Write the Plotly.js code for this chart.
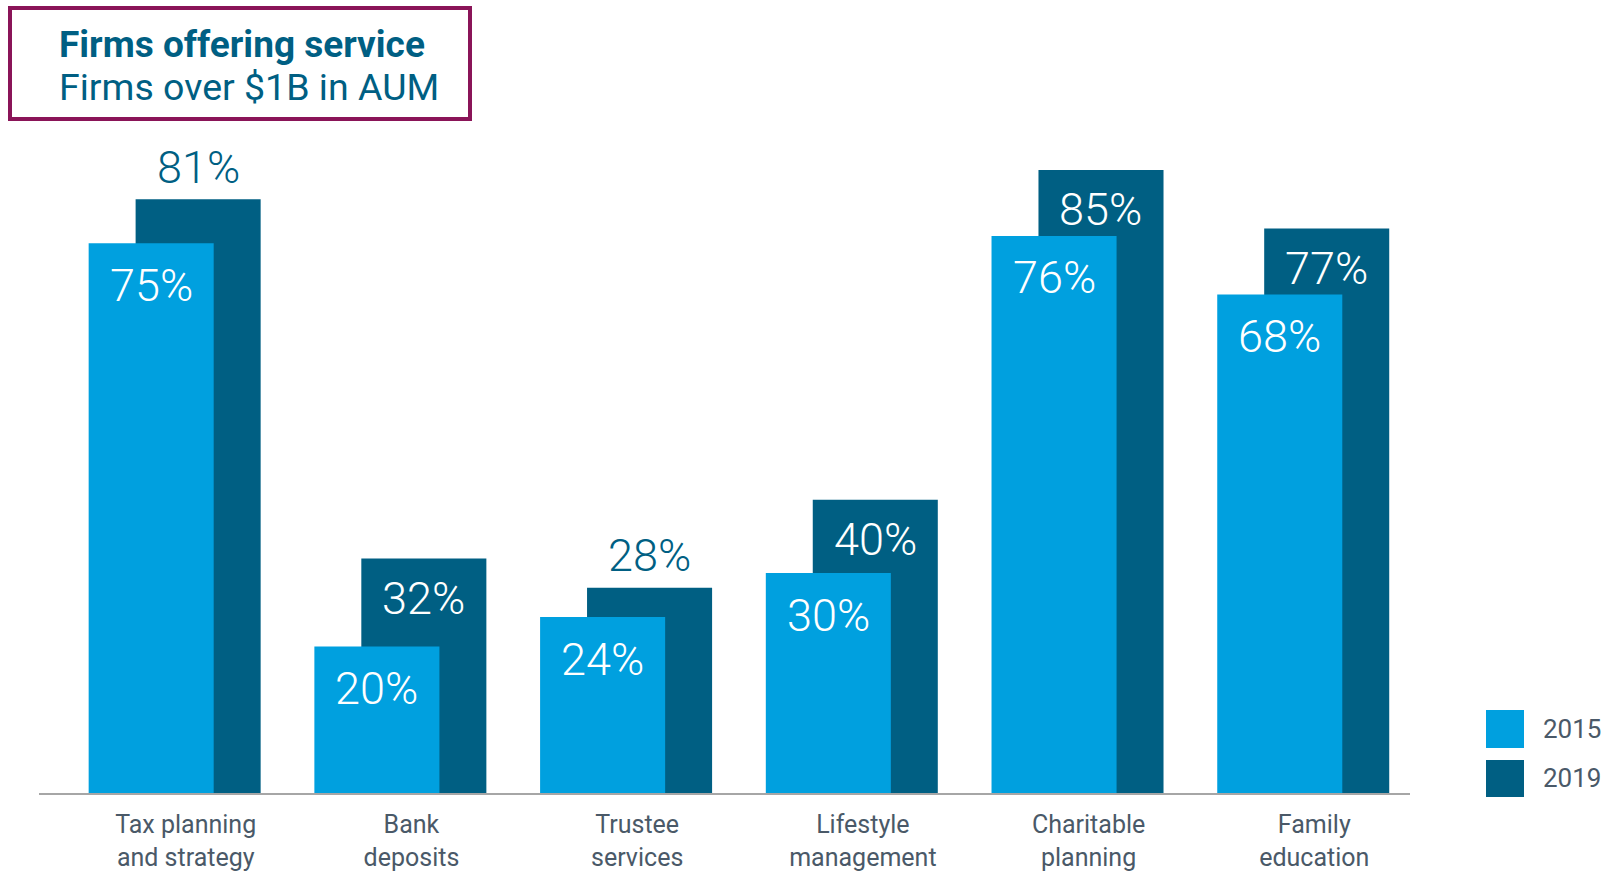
<!DOCTYPE html>
<html><head><meta charset="utf-8">
<script src="https://cdn.plot.ly/plotly-3.0.1.min.js"></script>
<style>html,body{margin:0;padding:0;background:#fff}#chart{width:1610px;height:874px}</style>
</head><body><div id="chart"></div>
<script>
const categories = ["Tax planning<br>and strategy","Bank<br>deposits","Trustee<br>services","Lifestyle<br>management","Charitable<br>planning","Family<br>education"];
const values2015 = [75,20,24,30,76,68];
const values2019 = [81,32,28,40,85,77];
const seriesNames = ["2015","2019"];

const W=1610,H=874, ML=39, MR=200, MT=60, MB=81;
const PW=W-ML-MR, PH=H-MT-MB;
const px2x = p => (p-ML)/PW;
const px2y = p => (H-MB-p)/PH;

const C15="#00a0df", C19="#005f83", TXT="#4a5968";
const BW=0.554, OFF15=-0.38, OFF19=-0.172;
const idx = categories.map((c,i)=>i);

const traces=[
 {type:'bar',name:seriesNames[1],x:idx,y:values2019,width:BW,offset:OFF19,marker:{color:C19},hoverinfo:'skip',showlegend:false},
 {type:'bar',name:seriesNames[0],x:idx,y:values2015,width:BW,offset:OFF15,marker:{color:C15},hoverinfo:'skip',showlegend:false}
];

const valFont = (c)=>({family:'Roboto',size:45,color:c,weight:300});
const ann=[];
idx.forEach(i=>{
  ann.push({x:i+OFF15+BW/2,y:values2015[i],xref:'x',yref:'y',text:values2015[i]+'%',showarrow:false,yanchor:'middle',yshift:-42,font:valFont('#ffffff')});
  const above = (values2019[i]-values2015[i])<8;
  ann.push({x:i+OFF19+BW/2,y:values2019[i],xref:'x',yref:'y',text:values2019[i]+'%',showarrow:false,yanchor:'middle',yshift:above?32:-40,font:valFont(above?C19:'#ffffff')});
});
// title
ann.push({xref:'paper',yref:'paper',x:px2x(57),y:px2y(44),xanchor:'left',yanchor:'middle',showarrow:false,text:'<b>Firms offering service</b>',font:{family:'Roboto',size:37,color:C19}});
ann.push({xref:'paper',yref:'paper',x:px2x(57),y:px2y(87),xanchor:'left',yanchor:'middle',showarrow:false,text:'Firms over $1B in AUM',font:{family:'Roboto',size:37.5,color:C19}});
// legend text
ann.push({xref:'paper',yref:'paper',x:px2x(1541),y:px2y(729),xanchor:'left',yanchor:'middle',showarrow:false,text:seriesNames[0],font:{family:'Roboto',size:26,color:TXT}});
ann.push({xref:'paper',yref:'paper',x:px2x(1541),y:px2y(778),xanchor:'left',yanchor:'middle',showarrow:false,text:seriesNames[1],font:{family:'Roboto',size:26,color:TXT}});

const shapes=[
 {type:'rect',xref:'paper',yref:'paper',x0:px2x(10),x1:px2x(470),y0:px2y(119),y1:px2y(8),line:{color:'#8a1458',width:4},fillcolor:'rgba(0,0,0,0)'},
 {type:'rect',xref:'paper',yref:'paper',x0:px2x(1486),x1:px2x(1524),y0:px2y(748),y1:px2y(710),line:{width:0},fillcolor:C15},
 {type:'rect',xref:'paper',yref:'paper',x0:px2x(1486),x1:px2x(1524),y0:px2y(797),y1:px2y(760),line:{width:0},fillcolor:C19}
];

const layout={
 width:W,height:H,margin:{l:ML,r:MR,t:MT,b:MB,pad:0},
 paper_bgcolor:'#fff',plot_bgcolor:'#fff',barmode:'overlay',showlegend:false,
 xaxis:{type:'linear',range:[-0.6,5.474],tickmode:'array',tickvals:idx.map(i=>i+0.05),ticktext:categories,
   showgrid:false,zeroline:false,showline:true,linecolor:'#a6a6a6',linewidth:2,
   ticks:'',tickfont:{family:'Roboto',size:25,color:TXT},ticklabelstandoff:8,fixedrange:true},
 yaxis:{range:[0,100],visible:false,showgrid:false,zeroline:false,fixedrange:true},
 annotations:ann,shapes:shapes
};
Plotly.newPlot('chart',traces,layout,{staticPlot:true,displayModeBar:false});
</script></body></html>
